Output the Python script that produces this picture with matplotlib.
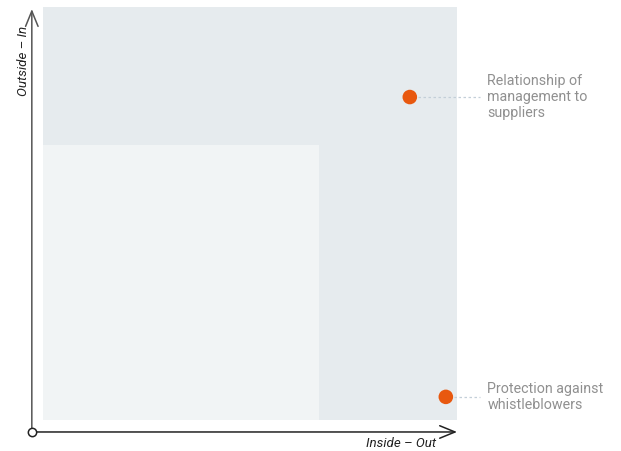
import matplotlib
matplotlib.use('Agg')
import matplotlib.pyplot as plt
from matplotlib.patches import Rectangle

plt.rcParams['font.family'] = ['Roboto', 'DejaVu Sans']

# data (0..1 scale on both dimensions)
labels = ['Relationship of\nmanagement to\nsuppliers', 'Protection against\nwhistleblowers']
inside_out = [0.886, 0.973]
outside_in = [0.782, 0.056]
inner_size = 2 / 3

fig = plt.figure(figsize=(6.21, 4.51), dpi=100)
ax = fig.add_axes([43/621, 31/451, 414/621, 413/451])
ax.set_xlim(0, 1)
ax.set_ylim(0, 1)
ax.axis('off')

ax.add_patch(Rectangle((0, 0), 1, 1, color='#e6ebee', lw=0, zorder=0))
ax.add_patch(Rectangle((0, 0), inner_size, inner_size, color='#f1f4f5', lw=0, zorder=1))

ox, oy = -0.027, -0.029
arrow = dict(arrowstyle='->,head_length=1.1,head_width=0.45', color='#222222', lw=1.1,
             shrinkA=0, shrinkB=0)
ax.annotate('', xy=(1.0, oy), xytext=(ox, oy), arrowprops=arrow, annotation_clip=False)
ax.annotate('', xy=(ox, 0.995), xytext=(ox, oy), arrowprops=dict(arrow, color='#555555'),
            annotation_clip=False)
ax.plot([ox], [oy], 'o', ms=6, mfc='white', mec='#222222', mew=1.1, clip_on=False, zorder=5)

ax.text(0.949, -0.058, 'Inside – Out', style='italic', fontsize=9.6, ha='right', va='center',
        color='#222222')
ax.text(-0.047, 0.869, 'Outside – In', style='italic', fontsize=9.6, rotation=90,
        ha='center', va='center', color='#222222')

ax.scatter(inside_out, outside_in, s=110, color='#e8580f', zorder=4, clip_on=False,
           edgecolors='none')
for x, y, lab in zip(inside_out, outside_in, labels):
    ax.plot([x + 0.02, 1.055], [y, y], ls=(0, (2, 2)), color='#c3cfd8', lw=0.9,
            clip_on=False, zorder=3)
    ax.text(1.073, y, lab, fontsize=10.3, color='#909090', ha='left', va='center',
            linespacing=1.15)

fig.savefig('out.png', dpi=100)
